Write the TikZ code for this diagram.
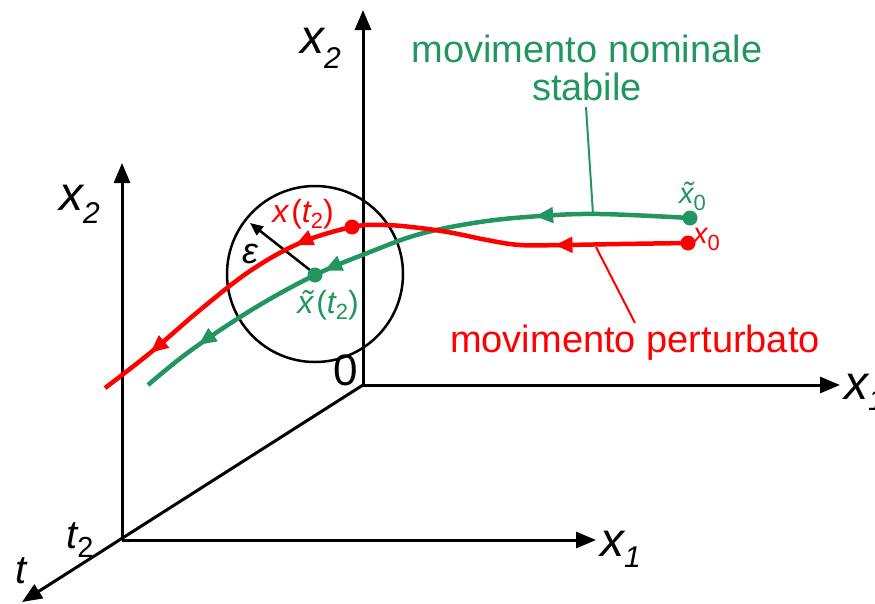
\documentclass[tikz,border=0pt]{standalone}
\usepackage{fontspec}
\setmainfont{Liberation Sans}
\usetikzlibrary{arrows.meta,decorations.markings}
\definecolor{gr}{RGB}{34,150,96}
\definecolor{rd}{RGB}{255,0,0}
\newcommand{\axlab}[3]{{\fontsize{48}{48}\selectfont\itshape #1}\raisebox{#3}{\fontsize{30}{30}\selectfont\itshape #2}}
\newcommand{\fs}[1]{\fontsize{#1}{#1}\selectfont}
\tikzset{mytip/.tip={Triangle[length=18pt,width=15pt]}}
\begin{document}
\begin{tikzpicture}[x=1pt,y=-1pt,
  axis/.style={line width=3pt,-{Triangle[length=20pt,width=16pt]}},
  curve/.style={line width=4.5pt,line cap=butt},
  dot/.style={circle,inner sep=0pt,minimum size=15pt},
  lab/.style={inner sep=0pt,anchor=base},
  leader/.style={line width=2pt}]
\useasboundingbox (0,0) rectangle (875,603);
% axes
\coordinate (O) at (363,385);
\coordinate (O2) at (122,540);
\coordinate (ytop) at (363,10);
\coordinate (xright) at (840,385);
\coordinate (ttip) at (22,602);
\coordinate (y2top) at (122,163);
\coordinate (x2right) at (596,540);
\draw[axis] (O) -- (ytop);
\draw[axis] (O) -- (xright);
\draw[axis] (O) -- (ttip);
\draw[axis] (O2) -- (y2top);
\draw[axis] (O2) -- (x2right);
% axis labels
\node[lab,anchor=base west] (lx2top) at (300,53) {\axlab{x}{2}{-15pt}};
\node[lab,anchor=base west] (lx2left) at (59,210) {\axlab{x}{2}{-13pt}};
\node[lab,anchor=base west] (lx1) at (600,556) {\axlab{x}{1}{-11pt}};
\node[lab,anchor=base west] (lxr) at (844,399) {\axlab{x}{1}{-11pt}};
\node[lab,anchor=base west] (lt2) at (66,548) {{\fs{40}\itshape t}\raisebox{-9pt}{\fs{29}2}};
\node[lab,anchor=base west] (lt) at (15,583) {\fs{40}\itshape t};
\node[lab] (lzero) at (346,385) {\fs{44}0};
% circle
\coordinate (C) at (315,274);
\draw[line width=2.5pt] (C) circle [radius=88pt];
\coordinate (epsend) at (250,223);
\draw[line width=2.5pt,-{Triangle[length=13pt,width=11pt]}] (C) -- (epsend);
\node[lab] (leps) at (250,263) {\fs{36}\itshape ε};
% green curve
\draw[curve,gr,postaction={decorate},decoration={markings,
   mark=at position 0.265 with {\arrow{mytip}},
   mark=at position 0.64 with {\arrow{mytip}},
   mark=at position 0.89 with {\arrow{mytip}}}]
  plot[smooth,tension=0.6] coordinates {(690,218) (600,214) (540,216) (480,222) (420,234) (370,252) (315,275) (253,309) (190,351) (148,385)};
% red curve
\draw[curve,rd,postaction={decorate},decoration={markings,
   mark=at position 0.21 with {\arrow{mytip}},
   mark=at position 0.625 with {\arrow{mytip}},
   mark=at position 0.91 with {\arrow{mytip}}}]
  plot[smooth,tension=0.6] coordinates {(688,243) (620,244) (563,245) (520,245) (487,240) (453,233) (420,228) (385,225) (352,227) (300,243) (250,271) (200,310) (150,353) (105,388)};
% dots
\node[dot,fill=gr] (gx0) at (690,218) {};
\node[dot,fill=gr] (gxt) at (315,275) {};
\node[dot,fill=rd] (rx0) at (688,243) {};
\node[dot,fill=rd] (rxt) at (352,227) {};
% point labels
\node[lab,anchor=base west,gr] (lgx0) at (679,203) {{\fs{29}\itshape\~{x}}\raisebox{-7pt}{\fs{22}0}};
\node[lab,anchor=base west,rd] (lrx0) at (693,243) {{\fs{29}\itshape x}\raisebox{-7pt}{\fs{22}0}};
\node[lab,rd] (lrxt) at (303,222) {\fs{32}\itshape x\hspace{3pt}\upshape(\itshape t\raisebox{-6pt}{\fs{22}\upshape 2}\upshape)};
\node[lab,gr] (lgxt) at (328,313) {\fs{32}\itshape\~{x}\hspace{3pt}\upshape(\itshape t\raisebox{-6pt}{\fs{22}\upshape 2}\upshape)};
% text labels
\node[lab,gr] (gl1) at (587,62) {\fs{38}movimento nominale};
\node[lab,gr] (gl2) at (587,100) {\fs{38}stabile};
\node[lab,rd] (rl) at (635,352) {\fs{38}movimento perturbato};
\coordinate (gleadA) at (586,107);
\coordinate (gleadB) at (593,214);
\coordinate (rleadA) at (596,247);
\coordinate (rleadB) at (635,323);
\draw[leader,gr] (gleadA) -- (gleadB);
\draw[leader,rd] (rleadA) -- (rleadB);
\end{tikzpicture}
\end{document}
